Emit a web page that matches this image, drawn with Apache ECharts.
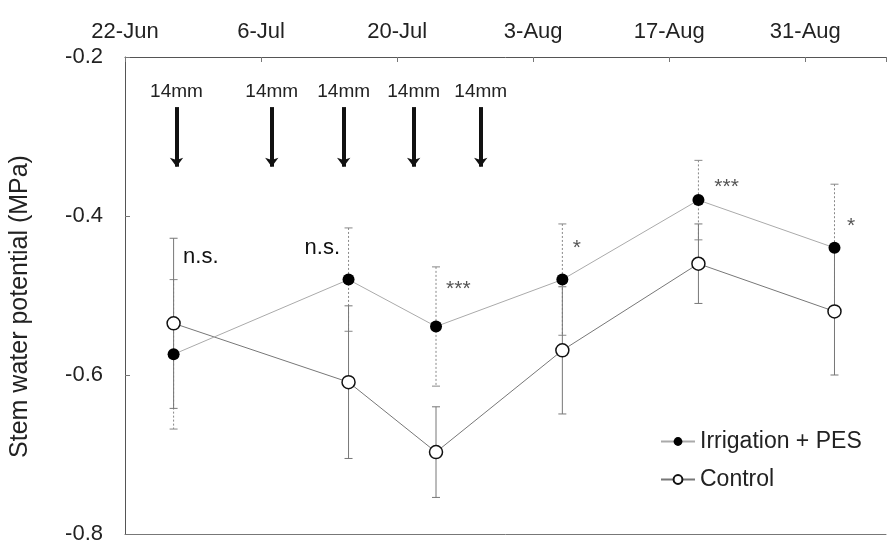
<!DOCTYPE html>
<html><head><meta charset="utf-8">
<script src="https://cdn.jsdelivr.net/npm/echarts@6/dist/echarts.min.js"></script>
<style>html,body{margin:0;padding:0;background:#fff}#c{width:889px;height:545px}</style>
</head><body><div id="c"></div>
<script>
// ---- data (x = days since 22-Jun) ----
var tickLabels = ['22-Jun', '6-Jul', '20-Jul', '3-Aug', '17-Aug', '31-Aug'];
var sampleDays = [5, 23, 32, 45, 59, 73];
var irrMean = [-0.574, -0.480, -0.539, -0.480, -0.380, -0.440];
var irrErr  = [0.094, 0.065, 0.075, 0.070, 0.050, 0.080];
var ctrlMean = [-0.535, -0.609, -0.697, -0.569, -0.460, -0.520];
var ctrlErr  = [0.107, 0.096, 0.057, 0.080, 0.050, 0.080];
var irrigationDays = [5.3, 15.1, 22.5, 29.7, 36.6];
var irrigationLabels = ['14mm', '14mm', '14mm', '14mm', '14mm'];
var arrowTop = -0.263, arrowBottom = -0.338;
var sigLabels = ['n.s.', 'n.s.', '***', '*', '***', '*'];
var sigX = [7.8, 20.3, 34.3, 46.5, 61.9, 74.7];
var sigY = [-0.452, -0.440, -0.492, -0.440, -0.364, -0.413];

var FONT = 'Arial, "Liberation Sans", sans-serif';

function errRender(dashed, color) {
  return function (params, api) {
    var x = api.value(0), lo = api.value(1), hi = api.value(2);
    var p1 = api.coord([x, hi]), p2 = api.coord([x, lo]);
    var c = 4;
    var st = { stroke: color, lineWidth: 1, lineDash: dashed ? [2, 2] : null };
    return { type: 'group', children: [
      { type: 'line', shape: { x1: p1[0], y1: p1[1], x2: p2[0], y2: p2[1] }, style: st },
      { type: 'line', shape: { x1: p1[0] - c, y1: p1[1], x2: p1[0] + c, y2: p1[1] }, style: { stroke: color, lineWidth: 1 } },
      { type: 'line', shape: { x1: p2[0] - c, y1: p2[1], x2: p2[0] + c, y2: p2[1] }, style: { stroke: color, lineWidth: 1 } }
    ] };
  };
}

var chart = echarts.init(document.getElementById('c'));
chart.setOption({
  animation: false,
  textStyle: { fontFamily: FONT },
  grid: { left: 122, right: 0, top: 57, bottom: 10 },
  legend: {
    data: ['Irrigation + PES', 'Control'],
    orient: 'vertical', left: 655, top: 425,
    itemWidth: 34, itemHeight: 11, itemGap: 15,
    textStyle: { fontSize: 23, color: '#222', fontFamily: FONT }
  },
  xAxis: [{
    type: 'value', position: 'top', min: 0, max: 78.3, interval: 14,
    axisLine: { lineStyle: { color: '#555' } },
    axisTick: { inside: true, length: 5, lineStyle: { color: '#777' } },
    splitLine: { show: false },
    axisLabel: {
      margin: 14, fontSize: 22, color: '#222', fontFamily: FONT,
      formatter: function (v) { var i = Math.round(v / 14); return (Math.abs(v - i * 14) < 1e-6 && tickLabels[i]) ? tickLabels[i] : ''; }
    }
  }, {
    type: 'value', position: 'bottom', min: 0, max: 78.3,
    axisLine: { show: true, onZero: false, lineStyle: { color: '#777' } },
    axisTick: { show: false }, axisLabel: { show: false }, splitLine: { show: false }
  }],
  yAxis: {
    type: 'value', min: -0.8, max: -0.2, interval: 0.2,
    name: 'Stem water potential (MPa)', nameLocation: 'middle', nameGap: 92,
    nameTextStyle: { fontSize: 25, color: '#222', fontFamily: FONT, padding: [0, 22, 0, 0] },
    axisLine: { show: true, onZero: false, lineStyle: { color: '#555' } },
    axisTick: { inside: true, length: 5, lineStyle: { color: '#777' } },
    splitLine: { show: false },
    axisLabel: { margin: 22, fontSize: 22, color: '#222', fontFamily: FONT, formatter: function (v) { return v.toFixed(1); } }
  },
  series: [
    {
      type: 'custom', name: 'irrErr', renderItem: errRender(true, '#888'), z: 1,
      encode: { x: 0, y: [1, 2] }, silent: true,
      data: sampleDays.map(function (d, i) { return [d, irrMean[i] - irrErr[i], irrMean[i] + irrErr[i]]; })
    },
    {
      type: 'custom', name: 'ctrlErr', renderItem: errRender(false, '#777'), z: 2,
      encode: { x: 0, y: [1, 2] }, silent: true,
      data: sampleDays.map(function (d, i) { return [d, ctrlMean[i] - ctrlErr[i], ctrlMean[i] + ctrlErr[i]]; })
    },
    {
      type: 'line', name: 'Control', z: 3,
      symbol: 'circle', symbolSize: 13,
      lineStyle: { color: '#777', width: 1 },
      itemStyle: { color: '#fff', borderColor: '#111', borderWidth: 1.5 },
      data: sampleDays.map(function (d, i) { return [d, ctrlMean[i]]; })
    },
    {
      type: 'line', name: 'Irrigation + PES', z: 4,
      symbol: 'circle', symbolSize: 12,
      lineStyle: { color: '#aaa', width: 1 },
      itemStyle: { color: '#000', borderColor: '#000', borderWidth: 0 },
      data: sampleDays.map(function (d, i) { return [d, irrMean[i]]; })
    },
    {
      type: 'scatter', name: 'sig', symbolSize: 0, silent: true, z: 5,
      itemStyle: { opacity: 1, color: '#111' },
      label: {
        show: true, position: 'inside', fontSize: 22, fontFamily: FONT,
        formatter: '{b}', color: '#111', textBorderWidth: 0
      },
      data: sigX.map(function (x, i) {
        var star = sigLabels[i].charAt(0) === '*';
        return { name: sigLabels[i], value: [x, sigY[i]], label: { color: star ? '#555' : '#111', fontSize: star ? 21 : 22, textBorderWidth: 0 } };
      })
    },
    {
      type: 'scatter', name: 'arrows', data: [], silent: true,
      markLine: {
        silent: true, symbol: ['none', 'arrow'], symbolSize: [10, 9],
        lineStyle: { color: '#111', width: 4, type: 'solid' },
        label: { show: true, position: 'start', distance: 6, formatter: '{b}', fontSize: 19, color: '#222', fontFamily: FONT },
        data: irrigationDays.map(function (d, i) {
          return [{ name: irrigationLabels[i], coord: [d, arrowTop] }, { coord: [d, arrowBottom] }];
        })
      }
    }
  ]
});
</script>
</body></html>
